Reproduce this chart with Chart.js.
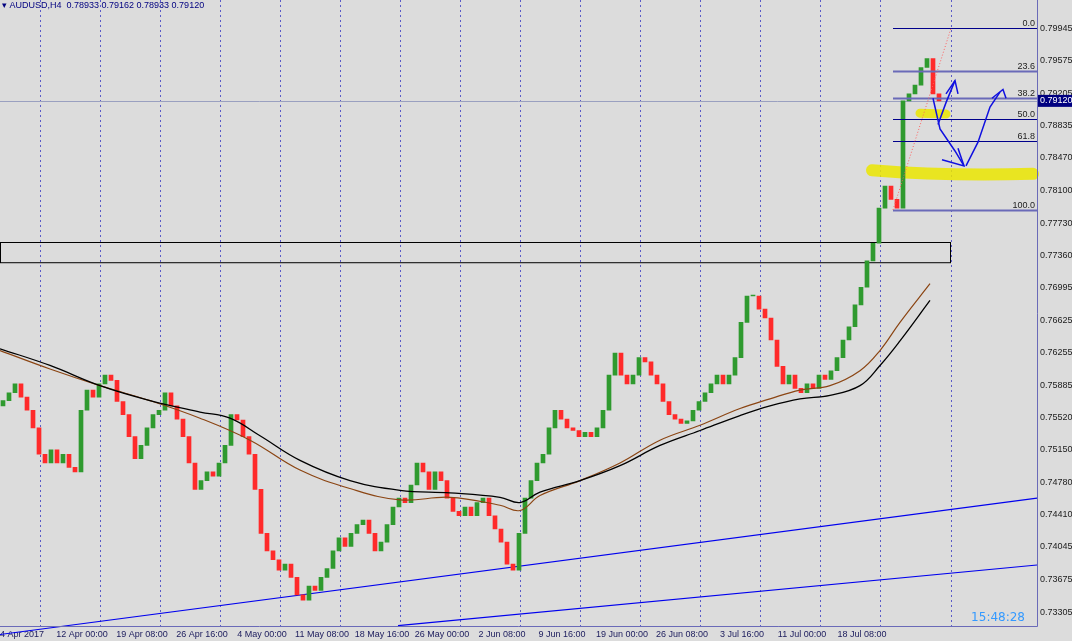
<!DOCTYPE html>
<html>
<head>
<meta charset="utf-8">
<script src="https://cdn.jsdelivr.net/npm/chart.js@4/dist/chart.umd.min.js"></script>
<style>
  html, body { margin: 0; padding: 0; background: #dcdcdc; }
  #wrap { width: 1072px; height: 641px; position: relative; }
</style>
</head>
<body>
<div id="wrap"><canvas id="c" width="1072" height="641"></canvas></div>
<script>
// closes, one bar every 6px
const closes = [
  .7571,.7580,.7590,.7575,.7560,.7540,.7510,.7500,.7515,.7500,.7510,.7495,.7490,.7560,.7583,.7575,.7590,.7600,.7594,.7570,
  .7555,.7530,.7505,.7520,.7540,.7555,.7560,.7580,.7565,.7550,.7530,.7500,.7470,.7480,.7490,.7485,.7500,.7520,.7555,.7549,
  .7530,.7510,.7470,.7420,.7400,.7390,.7378,.7385,.7370,.7350,.7344,.7360,.7355,.7370,.7380,.7400,.7415,.7405,.7420,.7430,
  .7435,.7420,.7400,.7410,.7430,.7450,.7460,.7455,.7475,.7500,.7490,.7470,.7490,.7480,.7460,.7445,.7440,.7450,.7440,.7455,
  .7460,.7440,.7425,.7410,.7385,.7378,.7420,.7460,.7480,.7500,.7510,.7540,.7560,.7550,.7540,.7537,.7530,.7535,.7530,.7540,
  .7560,.7600,.7625,.7600,.7590,.7600,.7620,.7615,.7600,.7590,.7570,.7555,.7550,.7545,.7548,.7560,.7570,.7580,.7590,.7600,
  .7590,.7600,.7620,.7660,.7690,.7690,.7675,.7665,.7640,.7610,.7590,.7600,.7585,.7580,.7590,.7585,.7600,.7595,.7605,.7620,
  .7640,.7655,.7680,.7700,.7730,.7750,.7790,.7815,.7800,.7790,.7912,.7920,.7930,.7950,.7960,.7920,.7912
];
const firstOpen = 0.7565;

// moving averages (x in px, price)
const maX = [0,50,100,150,200,230,260,300,350,400,450,500,520,540,580,620,660,700,740,770,800,830,860,880,900,930];
const maBlack = [.7630,.7611,.7588,.7571,.7558,.7551,.7531,.7503,.7480,.7469,.7466,.7461,.7455,.7467,.7480,.7497,.7520,.7537,.7554,.7565,.7573,.7577,.7588,.7611,.7639,.7685];
const maBrownX = [0,50,100,150,200,250,300,350,400,450,500,520,540,580,620,660,700,740,770,800,830,860,880,900,930];
const maBrown = [.7628,.7607,.7588,.7571,.7551,.7526,.7492,.7471,.7458,.7461,.7452,.7446,.7463,.7480,.7500,.7526,.7543,.7562,.7573,.7583,.7588,.7605,.7628,.7660,.7704];

const priceTicks = [0.79945,0.79575,0.79205,0.78835,0.78470,0.78100,0.77730,0.77360,0.76995,0.76625,0.76255,0.75885,0.75520,0.75150,0.74780,0.74410,0.74045,0.73675,0.73305];
const timeTicks = [40,100,160,220,280,340,400,460,520,580,640,700,760,820,880,940];
const timeLabels = ['4 Apr 2017','12 Apr 00:00','19 Apr 08:00','26 Apr 16:00','4 May 00:00','11 May 08:00','18 May 16:00','26 May 00:00','2 Jun 08:00','9 Jun 16:00','19 Jun 00:00','26 Jun 08:00','3 Jul 16:00','11 Jul 00:00','18 Jul 08:00',''];
const gridLines = [40,100,160,220,280,340,400,460,520,580,640,700,760,820,880,951];

const fibLevels = [0, 23.6, 38.2, 50.0, 61.8, 100];
const fibHigh = 0.79945, fibLow = 0.7788;
const lastPrice = 0.79120;

// bodies
const bodies = closes.map((c, i) => {
  const o = i === 0 ? firstOpen : closes[i - 1];
  return { x: i * 6 + 3, y: [o, c] };
});
const bodyColors = bodies.map(b => b.y[1] >= b.y[0] ? '#2f9a2f' : '#ff2a2a');

const drawings = {
  id: 'drawings',
  beforeDatasetsDraw(chart) {
    const { ctx, chartArea: a, scales: { x, y } } = chart;
    ctx.save();
    // dotted time grid
    ctx.strokeStyle = '#5a5ac8';
    ctx.setLineDash([2, 3]);
    ctx.lineWidth = 1;
    gridLines.forEach(t => {
      const px = Math.round(x.getPixelForValue(t)) + 0.5;
      ctx.beginPath(); ctx.moveTo(px, 0); ctx.lineTo(px, a.bottom); ctx.stroke();
    });
    ctx.setLineDash([]);
    // current price line
    ctx.strokeStyle = '#9aa0c0';
    const lp = Math.round(y.getPixelForValue(lastPrice)) + 0.5;
    ctx.beginPath(); ctx.moveTo(a.left, lp); ctx.lineTo(a.right, lp); ctx.stroke();
    // rectangle
    ctx.strokeStyle = '#000';
    const r1 = y.getPixelForValue(0.7752), r2 = y.getPixelForValue(0.7729);
    ctx.strokeRect(a.left + 0.5, Math.round(r1) + 0.5, x.getPixelForValue(950) - a.left, r2 - r1);
    // trend lines
    ctx.strokeStyle = '#0000ee';
    ctx.lineWidth = 1.2;
    [[0, 0.73049, 1037, 0.7460], [398, 0.7315, 1037, 0.7384]].forEach(l => {
      ctx.beginPath();
      ctx.moveTo(x.getPixelForValue(l[0]), y.getPixelForValue(l[1]));
      ctx.lineTo(x.getPixelForValue(l[2]), y.getPixelForValue(l[3]));
      ctx.stroke();
    });
    // yellow highlights
    ctx.strokeStyle = 'rgba(235,230,0,0.85)';
    ctx.lineCap = 'round';
    ctx.lineWidth = 9;
    ctx.beginPath();
    ctx.moveTo(x.getPixelForValue(920), y.getPixelForValue(0.7898));
    ctx.lineTo(x.getPixelForValue(946), y.getPixelForValue(0.7897));
    ctx.stroke();
    ctx.lineWidth = 12;
    ctx.beginPath();
    ctx.moveTo(x.getPixelForValue(872), y.getPixelForValue(0.7833));
    ctx.quadraticCurveTo(x.getPixelForValue(950), y.getPixelForValue(0.7826), x.getPixelForValue(1033), y.getPixelForValue(0.7829));
    ctx.stroke();
    ctx.restore();
  },
  afterDatasetsDraw(chart) {
    const { ctx, chartArea: a, scales: { x, y } } = chart;
    ctx.save();
    // fibonacci
    const fx0 = x.getPixelForValue(893);
    ctx.font = '9px "Liberation Sans"';
    ctx.textAlign = 'right';
    fibLevels.forEach(f => {
      const p = fibHigh - (fibHigh - fibLow) * f / 100;
      const py = Math.round(y.getPixelForValue(p)) + 0.5;
      const thick = f === 23.6 || f === 38.2 || f === 100;
      ctx.strokeStyle = thick ? '#6a6ab8' : '#00008b';
      ctx.lineWidth = thick ? 2 : 1;
      ctx.beginPath(); ctx.moveTo(fx0, py); ctx.lineTo(a.right, py); ctx.stroke();
      ctx.fillStyle = '#222';
      ctx.fillText(f.toFixed(1), a.right - 2, py - 3);
    });
    ctx.strokeStyle = '#ff6060';
    ctx.setLineDash([1, 2]);
    ctx.lineWidth = 1;
    ctx.beginPath();
    ctx.moveTo(fx0, y.getPixelForValue(fibLow));
    ctx.lineTo(x.getPixelForValue(951), y.getPixelForValue(fibHigh));
    ctx.stroke();
    ctx.setLineDash([]);
    // hand-drawn arrows
    ctx.strokeStyle = '#1010e0';
    ctx.lineWidth = 1.5;
    const P = (px, pr) => [x.getPixelForValue(px), y.getPixelForValue(pr)];
    const path = pts => { ctx.beginPath(); pts.forEach((p, i) => { const q = P(p[0], p[1]); i ? ctx.lineTo(q[0], q[1]) : ctx.moveTo(q[0], q[1]); }); ctx.stroke(); };
    path([[938, 0.7885], [946, 0.7910], [955, 0.7935]]);
    path([[946, 0.7920], [955, 0.7935], [958, 0.7920]]);
    path([[933, 0.7915], [940, 0.7880], [955, 0.7855], [964, 0.7838]]);
    path([[942, 0.7845], [964, 0.7838], [958, 0.7858]]);
    path([[966, 0.7838], [978, 0.7865], [990, 0.7905], [1000, 0.7922]]);
    path([[992, 0.7915], [1003, 0.7925], [1006, 0.7915]]);
    // last price label
    const lp = y.getPixelForValue(lastPrice);
    ctx.fillStyle = '#000080';
    ctx.fillRect(a.right + 1, lp - 6, 35, 12);
    ctx.fillStyle = '#fff';
    ctx.textAlign = 'left';
    ctx.textBaseline = 'middle';
    ctx.fillText('0.79120', a.right + 3, lp);
    // header and clock
    ctx.fillStyle = '#000080';
    ctx.font = '9px "Liberation Sans"';
    ctx.fillText('\u25BE AUDUSD,H4  0.78933 0.79162 0.78933 0.79120', 2, 6);
    ctx.fillStyle = '#3399ff';
    ctx.font = '12px "DejaVu Sans"';
    ctx.textAlign = 'right';
    ctx.fillText('15:48:28', a.right - 12, a.bottom - 8);
    // frame
    ctx.strokeStyle = '#6a6ab8';
    ctx.lineWidth = 1;
    ctx.beginPath();
    ctx.moveTo(a.right + 0.5, 0); ctx.lineTo(a.right + 0.5, a.bottom + 0.5); ctx.lineTo(0, a.bottom + 0.5);
    ctx.stroke();
    ctx.restore();
  }
};

new Chart(document.getElementById('c'), {
  type: 'bar',
  data: {
    datasets: [
      { type: 'line', data: maX.map((v, i) => ({ x: v, y: maBlack[i] })), borderColor: '#000', borderWidth: 1.3, pointRadius: 0, tension: 0.4 },
      { type: 'line', data: maBrownX.map((v, i) => ({ x: v, y: maBrown[i] })), borderColor: '#8b4513', borderWidth: 1.2, pointRadius: 0, tension: 0.4 },
      { type: 'bar', data: bodies, backgroundColor: bodyColors, barThickness: 4, minBarLength: 1 }
    ]
  },
  options: {
    animation: false,
    responsive: false,
    layout: { padding: 0 },
    plugins: { legend: { display: false }, tooltip: { enabled: false } },
    scales: {
      x: {
        type: 'linear', min: 0, max: 1037, offset: false,
        grid: { display: false, drawTicks: false, tickLength: 0 },
        border: { display: false },
        afterBuildTicks: s => { s.ticks = timeTicks.map(v => ({ value: v })); },
        afterFit: s => { s.height = 15; },
        ticks: {
          autoSkip: false, maxRotation: 0, labelOffset: -18, padding: 3,
          color: '#202060', font: { size: 9, family: 'Liberation Sans' },
          callback: (v, i) => timeLabels[i]
        }
      },
      y: {
        position: 'right', min: 0.73146, max: 0.80172,
        grid: { display: false, drawTicks: false, tickLength: 0 },
        border: { display: false },
        afterBuildTicks: s => { s.ticks = priceTicks.map(v => ({ value: v })); },
        afterFit: s => { s.width = 35; },
        ticks: {
          autoSkip: false, padding: 3, color: '#202020',
          font: { size: 9, family: 'Liberation Sans' },
          callback: v => v.toFixed(5)
        }
      }
    }
  },
  plugins: [drawings]
});
</script>
</body>
</html>
